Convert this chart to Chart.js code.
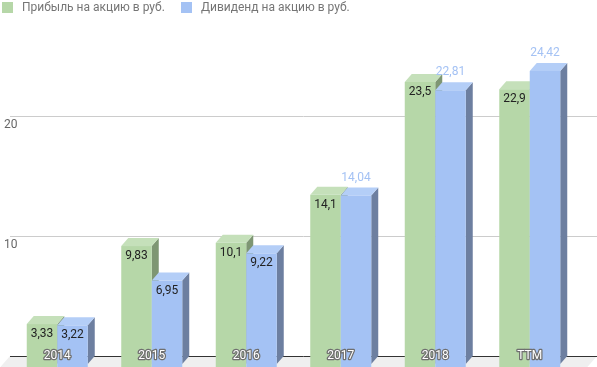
<!DOCTYPE html>
<html>
<head>
<meta charset="utf-8">
<script src="https://cdn.jsdelivr.net/npm/chart.js@4"></script>
<style>
html,body{margin:0;padding:0;background:#fff;}
#wrap{width:597px;height:367px;position:relative;}
</style>
</head>
<body>
<div id="wrap"><canvas id="c" width="597" height="367"></canvas></div>
<script>
const categories = ['2014', '2015', '2016', '2017', '2018', 'TTM'];
const profit = [3.33, 9.83, 10.1, 14.1, 23.5, 22.9];
const dividend = [3.22, 6.95, 9.22, 14.04, 22.81, 24.42];
const seriesNames = ['Прибыль на акцию в руб.', 'Дивиденд на акцию в руб.'];
const yTicks = [10, 20];

const FONT = 'Roboto, "Noto Sans", sans-serif';
const DX = 7, DY = 8;
const faces = [
  {front: '#b6d7a8', top: '#c5e0ba', side: '#7e9673'},
  {front: '#a4c2f4', top: '#b4cef7', side: '#6d7fa0'}
];

function fmt(v) { return String(v).replace('.', ','); }

const threeD = {
  id: 'threeD',
  beforeDatasetsDraw(chart) {
    const ctx = chart.ctx, y = chart.scales.y;
    const W = chart.width, H = chart.height;
    const base = y.getPixelForValue(0);
    ctx.save();
    // floor
    const slope = DX / DY;
    ctx.fillStyle = '#efefef';
    ctx.beginPath();
    ctx.moveTo(10, base);
    ctx.lineTo(W, base);
    ctx.lineTo(W - (H - base) * slope, H);
    ctx.lineTo(10 - (H - base) * slope, H);
    ctx.closePath();
    ctx.fill();
    // grid lines
    ctx.strokeStyle = '#cccccc';
    ctx.lineWidth = 1;
    ctx.font = '12px ' + FONT;
    ctx.fillStyle = '#666666';
    ctx.textAlign = 'left';
    ctx.textBaseline = 'middle';
    yTicks.forEach(v => {
      const py = Math.round(y.getPixelForValue(v)) + 0.5;
      ctx.beginPath();
      ctx.moveTo(10, py);
      ctx.lineTo(W, py);
      ctx.stroke();
      ctx.fillText(String(v), 4, py + 8);
    });
    // baseline
    ctx.strokeStyle = '#333333';
    ctx.beginPath();
    ctx.moveTo(10, Math.round(base) + 0.5);
    ctx.lineTo(W, Math.round(base) + 0.5);
    ctx.stroke();
    ctx.restore();
  },
  afterDatasetsDraw(chart) {
    const ctx = chart.ctx, H = chart.height;
    const xs = chart.scales.x;
    ctx.save();
    const n = categories.length;
    for (let i = 0; i < n; i++) {
      chart.data.datasets.forEach((ds, d) => {
        const el = chart.getDatasetMeta(d).data[i];
        const w = el.width;
        const bl = el.x - w / 2, br = el.x + w / 2;
        const ty = el.y, by = el.base;
        const fl = bl - DX, fr = br - DX, fty = ty + DY;
        const c = faces[d];
        // side
        ctx.fillStyle = c.side;
        ctx.beginPath();
        ctx.moveTo(fr, fty);
        ctx.lineTo(br, ty);
        ctx.lineTo(br, by);
        ctx.lineTo(fr, by + DY);
        ctx.closePath();
        ctx.fill();
        // top
        ctx.fillStyle = c.top;
        ctx.beginPath();
        ctx.moveTo(fl, fty);
        ctx.lineTo(bl, ty);
        ctx.lineTo(br, ty);
        ctx.lineTo(fr, fty);
        ctx.closePath();
        ctx.fill();
        // front
        ctx.fillStyle = c.front;
        ctx.fillRect(fl, fty, w, H - fty);
      });
    }
    // value labels
    ctx.font = '12px ' + FONT;
    ctx.textAlign = 'center';
    ctx.textBaseline = 'middle';
    chart.data.datasets.forEach((ds, d) => {
      chart.getDatasetMeta(d).data.forEach((el, i) => {
        const v = ds.data[i];
        const cx = el.x - DX;
        const outside = d === 1 && v > 12;
        if (outside) {
          ctx.fillStyle = '#a4c2f4';
          ctx.fillText(fmt(v), cx, el.y - 10);
        } else {
          ctx.fillStyle = '#222222';
          ctx.fillText(fmt(v), cx, el.y + 18);
        }
      });
    });
    // category labels
    const base = chart.scales.y.getPixelForValue(0);
    ctx.font = '12px ' + FONT;
    ctx.lineJoin = 'round';
    ctx.lineWidth = 2.5;
    ctx.strokeStyle = '#6f6f6f';
    ctx.fillStyle = '#ffffff';
    categories.forEach((c, i) => {
      const cx = xs.getPixelForValue(i) - DX;
      ctx.strokeText(c, cx, base);
      ctx.fillText(c, cx, base);
    });
    // legend
    ctx.textAlign = 'left';
    ctx.textBaseline = 'middle';
    ctx.font = '12px ' + FONT;
    const lx = [2, 181];
    seriesNames.forEach((s, d) => {
      ctx.fillStyle = faces[d].front;
      ctx.fillRect(lx[d], 2, 11, 11);
      ctx.fillStyle = '#757575';
      ctx.fillText(s, lx[d] + 20, 8);
    });
    ctx.restore();
  }
};

new Chart(document.getElementById('c'), {
  type: 'bar',
  data: {
    labels: categories,
    datasets: [
      {label: seriesNames[0], data: profit, backgroundColor: 'rgba(0,0,0,0)', borderWidth: 0},
      {label: seriesNames[1], data: dividend, backgroundColor: 'rgba(0,0,0,0)', borderWidth: 0}
    ]
  },
  options: {
    responsive: false,
    animation: false,
    events: [],
    layout: {padding: {left: 17, right: 13, top: 20, bottom: 11}},
    datasets: {bar: {categoryPercentage: 0.6455, barPercentage: 1}},
    plugins: {legend: {display: false}, tooltip: {enabled: false}},
    scales: {
      x: {display: false, offset: true},
      y: {display: false, min: 0, max: 28}
    }
  },
  plugins: [threeD]
});
</script>
</body>
</html>
